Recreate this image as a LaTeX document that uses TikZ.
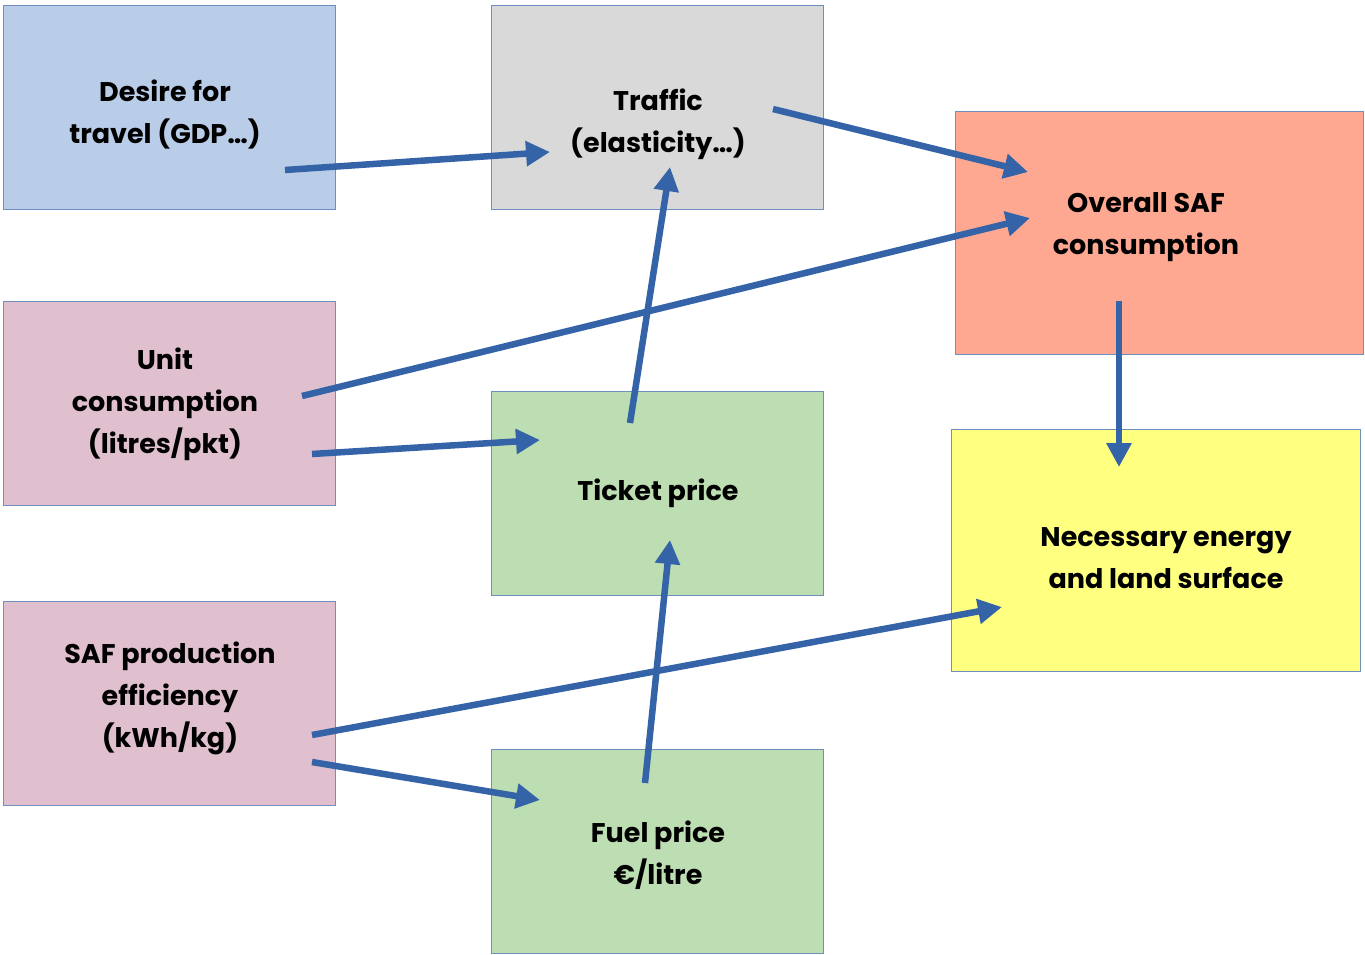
\documentclass[tikz,border=0pt]{standalone}
\usepackage{fontspec}
\setmainfont{Poppins}[BoldFont={Poppins Bold}]
\usetikzlibrary{arrows.meta}
\definecolor{bxline}{HTML}{6F8FC0}
\definecolor{cblue}{HTML}{B9CDE8}
\definecolor{cgray}{HTML}{D9D9D9}
\definecolor{csalmon}{HTML}{FFA891}
\definecolor{cpink}{HTML}{E0C0CF}
\definecolor{cgreen}{HTML}{BDDDB3}
\definecolor{cyellow}{HTML}{FFFF80}
\definecolor{arr}{HTML}{3563A8}
\tikzset{
  box/.style={draw=bxline, line width=1pt, inner sep=0pt, anchor=north west},
  lbl/.style={font=\fontsize{27}{42}\selectfont\bfseries, align=center, inner sep=0pt},
  link/.style={draw=arr, line width=6.5pt, -{Triangle[length=24pt,width=24pt]}, shorten >=0pt}
}
\begin{document}
\begin{tikzpicture}[x=1pt,y=-1pt]
\useasboundingbox (0,0) rectangle (1365,954);
% boxes
\node[box, fill=cblue, minimum width=332pt, minimum height=204pt] (desire) at (3,5) {};
\node[box, fill=cgray, minimum width=332pt, minimum height=204pt] (traffic) at (491,5) {};
\node[box, fill=csalmon, minimum width=408pt, minimum height=243pt] (overall) at (955,111) {};
\node[box, fill=cpink, minimum width=332pt, minimum height=204pt] (unit) at (3,301) {};
\node[box, fill=cgreen, minimum width=332pt, minimum height=204pt] (ticket) at (491,391) {};
\node[box, fill=cyellow, minimum width=409pt, minimum height=242pt] (energy) at (951,429) {};
\node[box, fill=cpink, minimum width=332pt, minimum height=204pt] (safprod) at (3,601) {};
\node[box, fill=cgreen, minimum width=332pt, minimum height=204pt] (fuel) at (491,749) {};
% labels
\node[lbl] (tdesire) at (165,115) {Desire for\\travel (GDP…)};
\node[lbl] (ttraffic) at (658,124) {Traffic\\(elasticity…)};
\node[lbl] (toverall) at (1146,227) {Overall SAF\\consumption};
\node[lbl] (tunit) at (165,404) {Unit\\consumption\\(litres/pkt)};
\node[lbl] (tticket) at (658,493) {Ticket price};
\node[lbl] (tenergy) at (1166,558) {Necessary energy\\and land surface};
\node[lbl] (tsafprod) at (170,698) {SAF production\\efficiency\\(kWh/kg)};
\node[lbl] (tfuel) at (658,855) {Fuel price\\€/litre};
% connector end points
\coordinate (desire-o) at (285,170);
\coordinate (traffic-i) at (550,152);
\coordinate (traffic-o) at (773,109);
\coordinate (overall-i1) at (1028,172);
\coordinate (unit-o1) at (302,396);
\coordinate (overall-i2) at (1030,218);
\coordinate (unit-o2) at (312,454);
\coordinate (ticket-i1) at (540,440);
\coordinate (ticket-o) at (630,423);
\coordinate (traffic-i2) at (670,167);
\coordinate (fuel-o) at (645,783);
\coordinate (ticket-i2) at (670,540);
\coordinate (safprod-o1) at (312,735);
\coordinate (energy-i1) at (1002,607);
\coordinate (safprod-o2) at (312,762);
\coordinate (fuel-i) at (540,800);
\coordinate (overall-o) at (1119,301);
\coordinate (energy-i2) at (1119,467);
% connectors
\draw[link] (desire-o) -- (traffic-i);
\draw[link] (traffic-o) -- (overall-i1);
\draw[link] (unit-o1) -- (overall-i2);
\draw[link] (unit-o2) -- (ticket-i1);
\draw[link] (ticket-o) -- (traffic-i2);
\draw[link] (fuel-o) -- (ticket-i2);
\draw[link] (safprod-o1) -- (energy-i1);
\draw[link] (safprod-o2) -- (fuel-i);
\draw[link] (overall-o) -- (energy-i2);
\end{tikzpicture}
\end{document}
